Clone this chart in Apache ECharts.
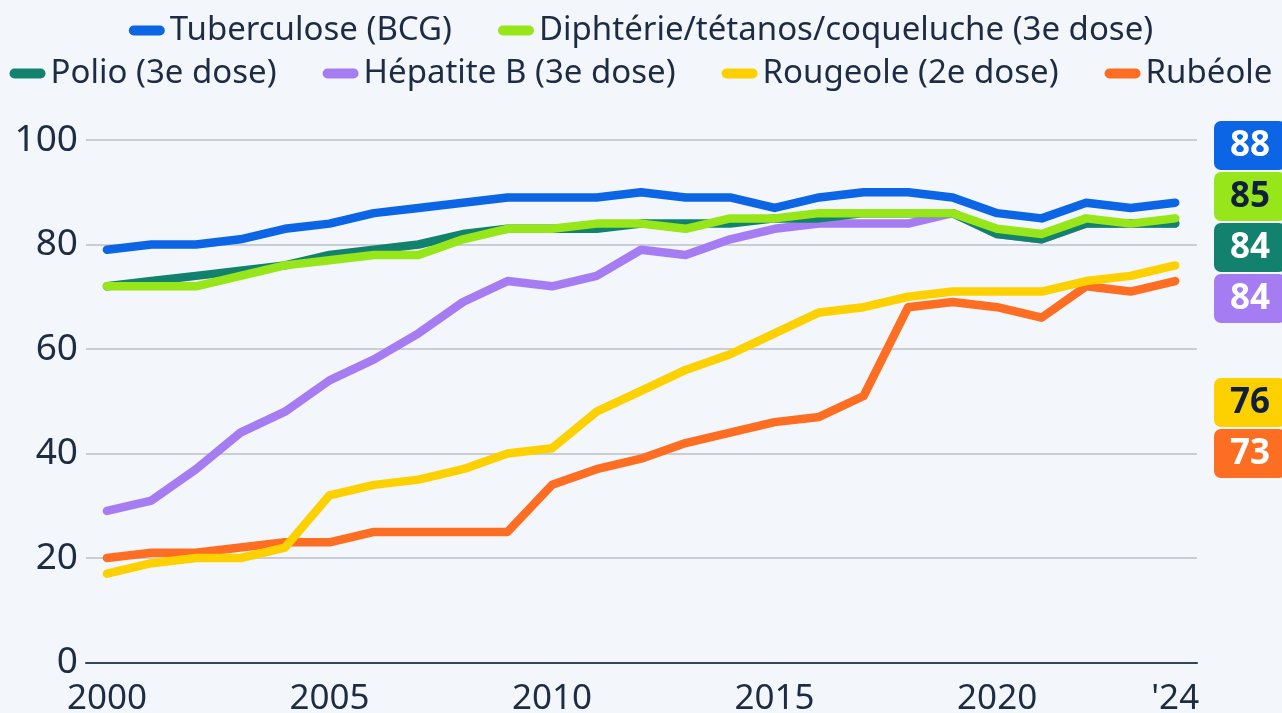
<!DOCTYPE html>
<html>
<head>
<meta charset="utf-8">
<script src="https://cdn.jsdelivr.net/npm/echarts@6/dist/echarts.min.js"></script>
<style>
html,body{margin:0;padding:0;background:#f3f6fa;}
#c{width:1282px;height:713px;}
</style>
</head>
<body>
<div id="c"></div>
<script>
const years = [2000,2001,2002,2003,2004,2005,2006,2007,2008,2009,2010,2011,2012,2013,2014,2015,2016,2017,2018,2019,2020,2021,2022,2023,2024];
const tuberculose = [79,80,80,81,83,84,86,87,88,89,89,89,90,89,89,87,89,90,90,89,86,85,88,87,88];
const diphterie   = [72,72,72,74,76,77,78,78,81,83,83,84,84,83,85,85,86,86,86,86,83,82,85,84,85];
const polio       = [72,73,74,75,76,78,79,80,82,83,83,83,84,84,84,85,85,86,86,86,82,81,84,84,84];
const hepatiteB   = [29,31,37,44,48,54,58,63,69,73,72,74,79,78,81,83,84,84,84,86,82,81,84,84,84];
const rougeole    = [17,19,20,20,22,32,34,35,37,40,41,48,52,56,59,63,67,68,70,71,71,71,73,74,76];
const rubeole     = [20,21,21,22,23,23,25,25,25,25,34,37,39,42,44,46,47,51,68,69,68,66,72,71,73];
const xTickLabels = [2000,2005,2010,2015,2020,2024];

const names = ['Tuberculose (BCG)','Diphtérie/tétanos/coqueluche (3e dose)','Polio (3e dose)','Hépatite B (3e dose)','Rougeole (2e dose)','Rubéole'];
const values = [tuberculose, diphterie, polio, hepatiteB, rougeole, rubeole];
const colors = ['#0b65e4','#97e61a','#12826f','#a67cf3','#fdd100','#fd6d22'];
const labelText = ['#ffffff','#0f1f3d','#ffffff','#ffffff','#0f1f3d','#ffffff'];
const boxTops = [121,172,223,274,378,429];

const textColor = '#1d2c44';
const font = 'Noto Sans';
const pill = 'path://M5,0 H31 A5,5 0 0 1 31,10 H5 A5,5 0 0 1 5,0 Z';

const drawOrder = [5,4,3,2,1,0];
const series = drawOrder.map(i => ({
  name: names[i],
  type: 'line',
  data: years.map((y, k) => [y, values[i][k]]),
  showSymbol: false,
  symbol: 'none',
  color: colors[i],
  lineStyle: {width: 8.5, color: colors[i], cap: 'round', join: 'round'},
  emphasis: {disabled: true},
  animation: false
}));

const graphics = [];
values.forEach((arr, i) => {
  graphics.push({
    type: 'rect', left: 1214, top: boxTops[i],
    shape: {width: 72, height: 49, r: 7},
    style: {fill: colors[i]}
  });
  graphics.push({
    type: 'text', x: 1250, y: boxTops[i] + 25,
    style: {text: String(arr[arr.length - 1]), fill: labelText[i], font: 'bold 35px "Noto Sans"', align: 'center', verticalAlign: 'middle'}
  });
});

const legendCommon = {
  left: 'center', icon: pill, itemWidth: 36, itemHeight: 10, itemGap: 46,
  textStyle: {fontSize: 33, color: textColor, fontFamily: font},
  selectedMode: false
};

const chart = echarts.init(document.getElementById('c'), null, {renderer: 'canvas'});
chart.setOption({
  backgroundColor: '#f3f6fa',
  animation: false,
  legend: [
    Object.assign({}, legendCommon, {top: 9, data: names.slice(0, 2)}),
    Object.assign({}, legendCommon, {top: 52, data: names.slice(2)})
  ],
  grid: {left: 86, right: 85, top: 140, bottom: 50.5, containLabel: false, outerBoundsMode: 'none'},
  xAxis: {
    type: 'value', min: 1999.53, max: 2024.49,
    axisLine: {show: true, lineStyle: {color: '#34445c', width: 2}},
    axisTick: {show: false},
    splitLine: {show: false},
    axisLabel: {
      customValues: xTickLabels,
      formatter: v => v === 2024 ? "'24" : String(v),
      fontSize: 35, color: textColor, fontFamily: font, margin: 19
    }
  },
  yAxis: {
    type: 'value', min: 0, max: 100, interval: 20,
    axisLine: {show: false}, axisTick: {show: false},
    splitLine: {lineStyle: {color: '#c9cdd5', width: 2}},
    axisLabel: {fontSize: 37, color: textColor, fontFamily: font, margin: 8}
  },
  series: series,
  graphic: graphics
});
</script>
</body>
</html>
